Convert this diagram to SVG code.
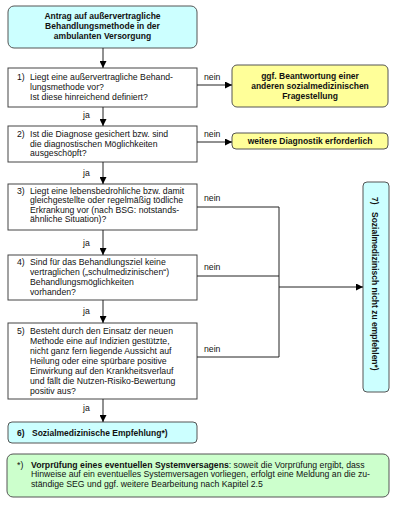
<svg xmlns="http://www.w3.org/2000/svg" width="400" height="507" viewBox="0 0 400 507">
<defs>
<marker id="ah" viewBox="0 0 8 8" refX="8" refY="4" markerWidth="7" markerHeight="7" markerUnits="userSpaceOnUse" orient="auto">
<path d="M0,0 L8,4 L0,8 Z" fill="#000"/>
</marker>
</defs>
<style>
.t{font-family:"Liberation Sans",Arial,sans-serif;font-size:8.7px;fill:#111}
.b{font-family:"Liberation Sans",Arial,sans-serif;font-size:8.5px;font-weight:bold;fill:#111}
.c{text-anchor:middle}
.box{fill:#fff;stroke:#444;stroke-width:1}
.cyan{fill:#ccffff;stroke:#555;stroke-width:1}
.yel{fill:#ffff99;stroke:#555;stroke-width:1}
.grn{fill:#ccffcc;stroke:#555;stroke-width:1}
.ln{fill:none;stroke:#222;stroke-width:1}
.ar{fill:none;stroke:#222;stroke-width:1;marker-end:url(#ah)}
</style>
<rect width="400" height="507" fill="#fff"/>

<g id="start">
<rect class="cyan" x="8" y="6" width="189" height="42" rx="6"/>
<text class="b c" x="102.5" y="19">Antrag auf außervertragliche</text>
<text class="b c" x="102.5" y="29">Behandlungsmethode in der</text>
<text class="b c" x="102.5" y="39">ambulanten Versorgung</text>
</g>

<g id="q1">
<rect class="box" x="8" y="68" width="189" height="39"/>
<text class="t" x="17" y="80">1)</text>
<text class="t" x="30" y="80">Liegt eine außervertragliche Behand-</text>
<text class="t" x="30" y="90">lungsmethode vor?</text>
<text class="t" x="30" y="100">Ist diese hinreichend definiert?</text>
</g>

<g id="r1">
<rect class="yel" x="232" y="65" width="156" height="42" rx="5"/>
<text class="b c" x="310" y="79">ggf. Beantwortung einer</text>
<text class="b c" x="310" y="89">anderen sozialmedizinischen</text>
<text class="b c" x="310" y="99">Fragestellung</text>
</g>

<g id="q2">
<rect class="box" x="8" y="126" width="189" height="36"/>
<text class="t" x="17" y="137">2)</text>
<text class="t" x="30" y="137">Ist die Diagnose gesichert bzw. sind</text>
<text class="t" x="30" y="146.5">die diagnostischen Möglichkeiten</text>
<text class="t" x="30" y="156">ausgeschöpft?</text>
</g>

<g id="r2">
<rect class="yel" x="232" y="133" width="156" height="16" rx="4"/>
<text class="b c" x="310" y="144">weitere Diagnostik erforderlich</text>
</g>

<g id="q3">
<rect class="box" x="8" y="184" width="189" height="46"/>
<text class="t" x="17" y="194">3)</text>
<text class="t" x="30" y="194">Liegt eine lebensbedrohliche bzw. damit</text>
<text class="t" x="30" y="203.3">gleichgestellte oder regelmäßig tödliche</text>
<text class="t" x="30" y="212.6">Erkrankung vor (nach BSG: notstands-</text>
<text class="t" x="30" y="221.9">ähnliche Situation)?</text>
</g>

<g id="q4">
<rect class="box" x="8" y="255" width="189" height="45"/>
<text class="t" x="17" y="264.5">4)</text>
<text class="t" x="30" y="264.5">Sind für das Behandlungsziel keine</text>
<text class="t" x="30" y="274.5">vertraglichen („schulmedizinischen“)</text>
<text class="t" x="30" y="284.5">Behandlungsmöglichkeiten</text>
<text class="t" x="30" y="294.5">vorhanden?</text>
</g>

<g id="q5">
<rect class="box" x="8" y="323" width="189" height="76"/>
<text class="t" x="17" y="334">5)</text>
<text class="t" x="30" y="334">Besteht durch den Einsatz der neuen</text>
<text class="t" x="30" y="344">Methode eine auf Indizien gestützte,</text>
<text class="t" x="30" y="354">nicht ganz fern liegende Aussicht auf</text>
<text class="t" x="30" y="364">Heilung oder eine spürbare positive</text>
<text class="t" x="30" y="374">Einwirkung auf den Krankheitsverlauf</text>
<text class="t" x="30" y="384">und fällt die Nutzen-Risiko-Bewertung</text>
<text class="t" x="30" y="394">positiv aus?</text>
</g>

<g id="r6">
<rect class="cyan" x="8" y="422" width="189" height="21" rx="4"/>
<text class="b" x="17" y="436">6)</text>
<text class="b" x="32" y="436">Sozialmedizinische Empfehlung*)</text>
</g>

<g id="r7">
<rect class="cyan" x="363" y="182" width="26" height="210" rx="4"/>
<g transform="translate(372,197) rotate(90)">
<text class="b" x="0" y="0">7)</text>
<text class="b" x="15" y="0">Sozialmedizinisch nicht zu empfehlen*)</text>
</g>
</g>

<g id="note">
<rect class="grn" x="7" y="454" width="382" height="43" rx="6"/>
<text class="t" x="17" y="468">*)</text>
<text class="t" x="31" y="468"><tspan font-weight="bold">Vorprüfung eines eventuellen Systemversagens</tspan>: soweit die Vorprüfung ergibt, dass</text>
<text class="t" x="31" y="477.3">Hinweise auf ein eventuelles Systemversagen vorliegen, erfolgt eine Meldung an die zu-</text>
<text class="t" x="31" y="486.6">ständige SEG und ggf. weitere Bearbeitung nach Kapitel 2.5</text>
</g>

<g id="connectors">
<line class="ar" x1="103" y1="48" x2="103" y2="68"/>
<line class="ar" x1="103" y1="107" x2="103" y2="126"/>
<line class="ar" x1="103" y1="162" x2="103" y2="184"/>
<line class="ar" x1="103" y1="230" x2="103" y2="255"/>
<line class="ar" x1="103" y1="300" x2="103" y2="323"/>
<line class="ar" x1="103" y1="399" x2="103" y2="422"/>
<line class="ar" x1="197" y1="85" x2="232" y2="85"/>
<line class="ar" x1="197" y1="142" x2="232" y2="142"/>
<polyline class="ln" points="197,207 279,207 279,357 197,357"/>
<line class="ln" x1="197" y1="276" x2="279" y2="276"/>
<line class="ar" x1="279" y1="287" x2="363" y2="287"/>
<text class="t" x="83" y="118">ja</text>
<text class="t" x="83" y="176">ja</text>
<text class="t" x="83" y="246">ja</text>
<text class="t" x="83" y="314">ja</text>
<text class="t" x="83" y="411">ja</text>
<text class="t" x="204" y="80">nein</text>
<text class="t" x="204" y="137">nein</text>
<text class="t" x="204" y="201">nein</text>
<text class="t" x="204" y="270">nein</text>
<text class="t" x="204" y="352">nein</text>
</g>
</svg>
